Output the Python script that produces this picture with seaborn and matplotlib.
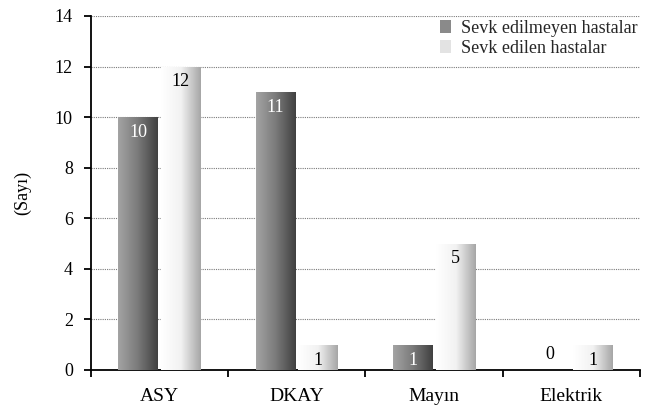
import numpy as np
import pandas as pd
import matplotlib
matplotlib.use("Agg")
import matplotlib.pyplot as plt
from matplotlib.patches import Patch
from matplotlib.colors import LinearSegmentedColormap
import seaborn as sns

categories = ["ASY", "DKAY", "Mayın", "Elektrik"]
series_names = ["Sevk edilmeyen hastalar", "Sevk edilen hastalar"]
not_referred = [10, 11, 1, 0]
referred = [12, 1, 5, 1]
y_ticks = [0, 2, 4, 6, 8, 10, 12, 14]

df = pd.DataFrame({
    "kategori": categories * 2,
    "grup": [series_names[0]] * len(categories) + [series_names[1]] * len(categories),
    "sayi": not_referred + referred,
})

sns.set_theme(style="white")
plt.rcParams["font.family"] = ["Liberation Serif", "DejaVu Serif"]

fig = plt.figure(figsize=(6.49, 4.09), dpi=100)
ax = fig.add_axes([0.140, 0.0954, 0.846, 0.8656])

sns.barplot(data=df, x="kategori", y="sayi", hue="grup", order=categories,
            hue_order=series_names, width=0.62, gap=0.07, ax=ax,
            palette=["#707070", "#e0e0e0"], legend=False, zorder=3)

# horizontal gradients for the two series
dark_cmap = LinearSegmentedColormap.from_list("dark", ["#a4a4a4", "#7a7a7a", "#404040"])
light_cmap = LinearSegmentedColormap.from_list("light", ["#ffffff", "#f2f2f2", "#a6a6a6"])
grad = np.linspace(0, 1, 256).reshape(1, -1)

for container, cmap, txt_color in zip(ax.containers, [dark_cmap, light_cmap], ["white", "black"]):
    for bar, val in zip(container, container.datavalues):
        x, w = bar.get_x(), bar.get_width()
        h = bar.get_height()
        bar.set_facecolor("none")
        bar.set_edgecolor("none")
        if h > 0:
            im = ax.imshow(grad, extent=[x, x + w, 0, h], aspect="auto", cmap=cmap,
                           zorder=3, interpolation="bilinear")
            im.set_clip_path(bar)
            ax.annotate(f"{val:g}", xy=(x + w / 2, h), xytext=(0, -5),
                        textcoords="offset points", ha="center", va="top",
                        fontsize=13, color=txt_color, zorder=5)
        else:
            ax.annotate(f"{val:g}", xy=(x + w / 2, h), xytext=(0, 5),
                        textcoords="offset points", ha="center", va="bottom",
                        fontsize=13, color="black", zorder=5)

ax.set_xlim(-0.5, len(categories) - 0.5)
ax.set_ylim(0, 14)
ax.set_yticks(y_ticks)
ax.set_xticks(np.arange(len(categories) + 1) - 0.5, minor=True)
ax.set_xticks(np.arange(len(categories)))
ax.set_xticklabels(categories)

ax.yaxis.grid(True, color="#7a7a7a", linestyle=(0, (1, 1)), linewidth=0.8, zorder=0)
ax.set_axisbelow(True)
for side in ["top", "right"]:
    ax.spines[side].set_visible(False)
for side in ["left", "bottom"]:
    ax.spines[side].set_color("black")
    ax.spines[side].set_linewidth(1.3)

ax.tick_params(axis="y", which="major", left=True, length=5, width=1.3, color="black",
               labelsize=13, labelcolor="black", pad=8)
ax.tick_params(axis="x", which="major", bottom=False, labelsize=14, labelcolor="black", pad=7)
ax.tick_params(axis="x", which="minor", bottom=True, length=5, width=1.3, color="black")

ax.set_xlabel("")
ax.set_ylabel("(Sayı)", fontsize=13, color="black", labelpad=17)

handles = [Patch(facecolor="#8a8a8a", edgecolor="none"),
           Patch(facecolor="#e3e3e3", edgecolor="none")]
leg = ax.legend(handles, series_names, loc="upper right", bbox_to_anchor=(1.0, 0.994),
                frameon=True, fancybox=False, framealpha=1, edgecolor="white",
                fontsize=13, handlelength=0.6, handleheight=0.7, handletextpad=0.6,
                labelspacing=0.15, borderpad=0.1, borderaxespad=0.0)
leg.get_frame().set_linewidth(0)
leg.set_zorder(6)

fig.savefig("out.png", dpi=100)
